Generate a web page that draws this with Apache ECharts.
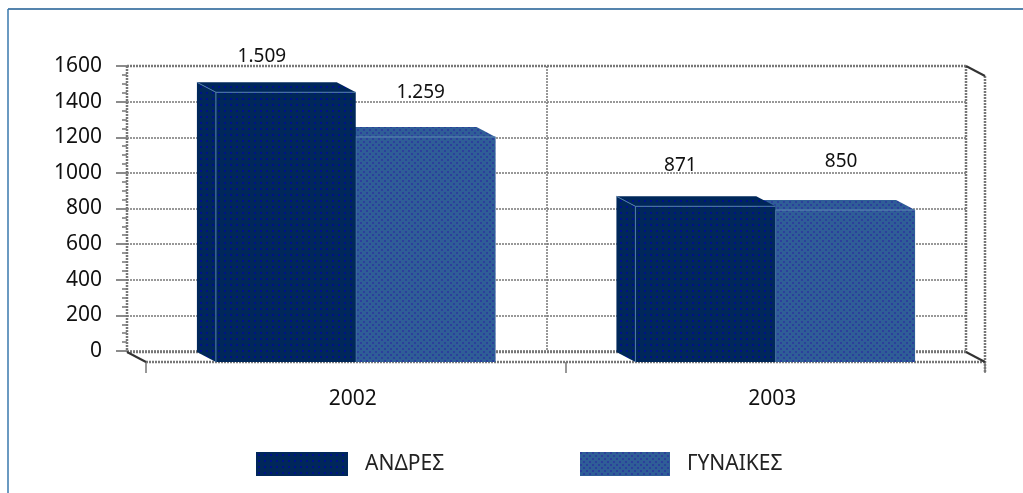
<!DOCTYPE html>
<html lang="el" style="height: 100%">
<head>
    <meta charset="utf-8">
    <script src="https://cdn.jsdelivr.net/npm/echarts@6/dist/echarts.min.js"></script>
</head>
<body style="height: 100%; margin: 0; overflow: hidden; background: #fff">
<div id="container" style="width: 1023px; height: 493px"></div>

<script type="text/javascript">
    var years = ['2002', '2003'];
    var men = [1509, 871];
    var women = [1259, 850];
    var yTicks = [0, 200, 400, 600, 800, 1000, 1200, 1400, 1600];

    // 3d look: the back wall sits this far up and left of the front plane
    var DX = 19, DY = 10;
    var FONT = '"Noto Sans"';
    // value labels float at uneven heights above the bars, by series then year
    var labelLift = { men: [26, 31], women: [34, 38] };
    var labelShift = { men: [-24, -25], women: [-5, -4] };

    function pattern(base, dot, mesh) {
      var c = document.createElement('canvas');
      c.width = 6; c.height = 6;
      var g = c.getContext('2d');
      g.fillStyle = base;
      g.fillRect(0, 0, 6, 6);
      g.fillStyle = dot;
      if (mesh) {
        g.fillRect(0, 0, 2, 2);
        g.fillRect(3, 3, 2, 2);
      } else {
        g.fillRect(2, 2, 2, 2);
      }
      return { image: c, repeat: 'repeat' };
    }
    var menFill = pattern('#00275a', '#00128a', false);
    var womenFill = pattern('#2f5e97', '#2c3f9b', true);

    function barItem(name, side, fill, topFill, edge) {
      return function (params, api) {
        var i = api.value(0);
        var base = api.coord([i, 0]);
        var top = api.coord([i, api.value(1)]);
        var w = api.size([1, 0])[0] / 3;
        var x0 = side < 0 ? base[0] - w : base[0];
        var x1 = x0 + w;
        var y0 = top[1], y1 = base[1];
        var text = String(api.value(1)).replace(/(\d)(\d{3})$/, '$1.$2');
        return {
          type: 'group',
          children: [
            { type: 'polygon', shape: { points: [[x0, y0], [x0 - DX, y0 - DY], [x0 - DX, y1 - DY], [x0, y1]] },
              style: { fill: fill } },
            { type: 'polygon', shape: { points: [[x0, y0], [x0 - DX, y0 - DY], [x1 - DX, y0 - DY], [x1, y0]] },
              style: { fill: topFill } },
            { type: 'rect', shape: { x: x0, y: y0, width: w, height: y1 - y0 }, style: { fill: fill } },
            { type: 'polyline', shape: { points: [[x0 - DX, y0 - DY], [x0, y0], [x1, y0]] },
              style: { stroke: edge, lineWidth: 1, fill: null } },
            { type: 'line', shape: { x1: x0, y1: y0, x2: x0, y2: y1 }, style: { stroke: edge, lineWidth: 1 } },
            { type: 'text', x: x0 + w / 2 + labelShift[name][i], y: y0 - DY - labelLift[name][i],
              style: { text: text, font: '19px ' + FONT, fill: '#111', align: 'center', verticalAlign: 'middle' } }
          ]
        };
      };
    }

    function wireItem(params, api) {
      var a = api.coord([0, 0]), b = api.coord([1, 1600]);
      var w = api.size([1, 0])[0];
      var left = a[0] - w / 2, right = b[0] + w / 2;
      var bottom = a[1], top = b[1];
      var thick = { stroke: '#777', lineWidth: 2.5, lineDash: [2, 1] };
      var dark = { stroke: '#333', lineWidth: 2 };
      return {
        type: 'group',
        children: [
          { type: 'line', shape: { x1: left - DX, y1: top - DY, x2: right - DX, y2: top - DY }, style: thick },
          { type: 'line', shape: { x1: left - DX, y1: top - DY, x2: left - DX, y2: bottom - DY }, style: thick },
          { type: 'line', shape: { x1: right - DX, y1: top - DY, x2: right - DX, y2: bottom - DY }, style: thick },
          { type: 'line', shape: { x1: right, y1: top, x2: right, y2: bottom + 11 }, style: thick },
          { type: 'line', shape: { x1: left - DX, y1: bottom - DY, x2: right - DX, y2: bottom - DY }, style: thick },
          { type: 'line', shape: { x1: left, y1: bottom, x2: right, y2: bottom }, style: thick },
          { type: 'line', shape: { x1: left - DX, y1: bottom - DY, x2: left, y2: bottom }, style: dark },
          { type: 'line', shape: { x1: right - DX, y1: bottom - DY, x2: right, y2: bottom }, style: dark },
          { type: 'line', shape: { x1: right - DX, y1: top - DY, x2: right, y2: top }, style: dark }
        ]
      };
    }

    var myChart = echarts.init(document.getElementById('container'), null, { renderer: 'canvas' });

    var gridLine = { color: '#777', width: 1.5, type: [2, 1] };

    var option = {
      animation: false,
      textStyle: { fontFamily: FONT },
      graphic: [
        { type: 'line', silent: true, shape: { x1: 8, y1: 9, x2: 1023, y2: 9 }, style: { stroke: '#1c5b92', lineWidth: 1.5 } },
        { type: 'line', silent: true, shape: { x1: 8, y1: 9, x2: 8, y2: 493 }, style: { stroke: '#3a78ad', lineWidth: 1.5 } }
      ],
      legend: [
        { left: 256, top: 452, padding: 0, data: [{ name: 'ΑΝΔΡΕΣ', icon: 'rect' }], itemWidth: 92, itemHeight: 24, selectedMode: false,
          textStyle: { fontFamily: FONT, fontSize: 21, color: '#222', padding: [7, 0, 0, 12] } },
        { left: 580, top: 452, padding: 0, data: [{ name: 'ΓΥΝΑΙΚΕΣ', icon: 'rect' }], itemWidth: 90, itemHeight: 24, selectedMode: false,
          textStyle: { fontFamily: FONT, fontSize: 21, color: '#222', padding: [7, 0, 0, 12] } }
      ],
      grid: [
        { left: 127, right: 57, top: 66, bottom: 142 },
        { left: 146, right: 38, top: 76, bottom: 131 }
      ],
      xAxis: [
        { type: 'category', gridIndex: 0, data: years, axisLabel: { show: false }, axisTick: { show: false },
          axisLine: { show: false }, splitLine: { show: true, lineStyle: gridLine } },
        { type: 'category', gridIndex: 1, data: years, position: 'bottom',
          axisLine: { show: false },
          axisTick: { show: true, length: 11, lineStyle: { color: '#777', width: 1.5 } },
          axisLabel: { margin: 27, fontSize: 21, color: '#111', fontFamily: FONT, padding: [0, 6, 0, 0] } }
      ],
      yAxis: [
        { type: 'value', gridIndex: 0, min: yTicks[0], max: yTicks[yTicks.length - 1], interval: yTicks[1] - yTicks[0],
          axisLine: { show: false },
          axisTick: { show: true, length: 11, lineStyle: { color: '#666', width: 1.5 } },
          minorTick: { show: true, splitNumber: 4, length: 5, lineStyle: { color: '#777', width: 1.5 } },
          axisLabel: { margin: 25, fontSize: 21, color: '#111', fontFamily: FONT, padding: [2, 0, 0, 0],
            formatter: function (v) { return String(v); } },
          splitLine: { show: true, lineStyle: gridLine } },
        { type: 'value', gridIndex: 1, min: yTicks[0], max: yTicks[yTicks.length - 1],
          show: false, splitLine: { show: false } }
      ],
      series: [
        { type: 'custom', name: 'wire', xAxisIndex: 1, yAxisIndex: 1, z: 1, silent: true,
          renderItem: wireItem, data: [[0, 0]] },
        { type: 'custom', name: 'ΓΥΝΑΙΚΕΣ', xAxisIndex: 1, yAxisIndex: 1, z: 3, silent: true,
          itemStyle: { color: womenFill },
          renderItem: barItem('women', 1, womenFill, womenFill, '#5f86b5'),
          data: years.map(function (y, i) { return [i, women[i]]; }) },
        { type: 'custom', name: 'ΑΝΔΡΕΣ', xAxisIndex: 1, yAxisIndex: 1, z: 4, silent: true,
          itemStyle: { color: menFill },
          renderItem: barItem('men', -1, menFill, menFill, '#4f7bab'),
          data: years.map(function (y, i) { return [i, men[i]]; }) }
      ]
    };

    myChart.setOption(option);
    window.addEventListener('resize', myChart.resize);
</script>
</body>
</html>
